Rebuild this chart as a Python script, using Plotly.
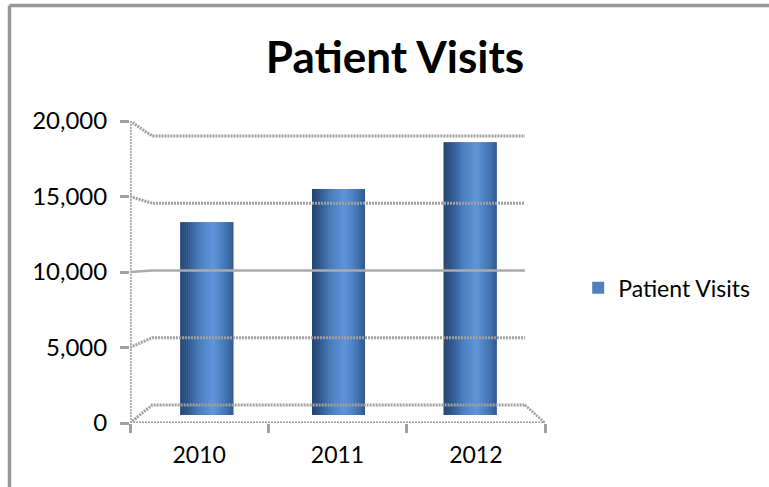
import plotly.graph_objects as go

# Data
categories = ["2010", "2011", "2012"]
series_name = "Patient Visits"
visits = [13300, 15500, 18600]
y_ticks = [0, 5000, 10000, 15000, 20000]
y_labels = ["0", "5,000", "10,000", "15,000", "20,000"]

# Look of the pseudo-3D chart
GRID = "#a0a0a0"
LEGEND_BLUE = "#4f81bd"
FLOOR = 530          # bars stand on the floor, slightly above the front axis
BAR_W = 0.383
STRIPS = 26
STOPS = [(0.0, (38, 70, 112)), (0.12, (46, 84, 134)), (0.35, (74, 125, 188)),
         (0.62, (96, 151, 220)), (0.85, (70, 120, 182)), (1.0, (50, 92, 146))]


def shade(t):
    for (a, ca), (b, cb) in zip(STOPS, STOPS[1:]):
        if t <= b:
            f = (t - a) / (b - a)
            return "rgb(%d,%d,%d)" % tuple(round(p + (q - p) * f) for p, q in zip(ca, cb))
    return "rgb(%d,%d,%d)" % STOPS[-1][1]


def back(v):
    return 1192 + v * 0.8908


fig = go.Figure()

# Back-wall gridlines with their slanted side-wall run
for v in y_ticks:
    solid = v == 10000
    fig.add_trace(go.Scatter(
        x=[0, 0.16, 2.855], y=[v, back(v), back(v)], mode="lines",
        line=dict(color="#ababab" if solid else GRID, width=2.5 if solid else 3,
                  dash="solid" if solid else "2px,1px"),
        showlegend=False, hoverinfo="skip", cliponaxis=False))

# Front axis and wall edge
fig.add_trace(go.Scatter(x=[0, 0], y=[0, 20000], mode="lines",
                         line=dict(color="#a8a8a8", width=3.5, dash="2px,1px"),
                         showlegend=False, hoverinfo="skip", cliponaxis=False))
fig.add_trace(go.Scatter(x=[0, 3], y=[0, 0], mode="lines",
                         line=dict(color=GRID, width=3, dash="2px,1px"),
                         showlegend=False, hoverinfo="skip", cliponaxis=False))
fig.add_trace(go.Scatter(x=[2.855, 3], y=[back(0), 0], mode="lines",
                         line=dict(color=GRID, width=2.5, dash="2px,1px"),
                         showlegend=False, hoverinfo="skip", cliponaxis=False))

# Bars with a horizontal cylinder shading built from narrow strips
centers = [1.507 + (i - 1) * 0.952 for i in range(len(categories))]
heights = [v - FLOOR for v in visits]
fig.add_trace(go.Bar(x=centers, y=heights, base=FLOOR, width=BAR_W, name=series_name,
                     marker=dict(color=LEGEND_BLUE, line=dict(width=0)),
                     showlegend=True))
for s in range(STRIPS):
    fig.add_trace(go.Bar(
        x=centers, y=heights, base=FLOOR, width=BAR_W / STRIPS * 1.05,
        offset=-BAR_W / 2 + s * BAR_W / STRIPS,
        marker=dict(color=shade(s / (STRIPS - 1)), line=dict(width=0)),
        showlegend=False, hoverinfo="skip"))

fig.update_layout(
    width=769, height=487, autosize=False,
    margin=dict(l=130, r=224, t=121, b=64),
    paper_bgcolor="white", plot_bgcolor="white",
    barmode="overlay",
    font=dict(family="Lato, Carlito, sans-serif", color="black", size=23),
    title=dict(text="<b>Patient Visits</b>", x=395 / 769, xref="container", xanchor="center",
               y=1 - 58 / 487, yref="container", yanchor="middle",
               font=dict(size=44, color="black")),
    legend=dict(x=1.08, y=0.448, xanchor="left", yanchor="middle",
                font=dict(size=23), itemclick=False, bgcolor="rgba(0,0,0,0)"),
    shapes=[
        dict(type="line", xref="paper", yref="paper", x0=(9.5 - 130) / 415, x1=(769 - 130) / 415,
             y0=(423 - 5.5) / 302, y1=(423 - 5.5) / 302, line=dict(color="#979797", width=3.5)),
        dict(type="line", xref="paper", yref="paper", x0=(9.5 - 130) / 415, x1=(9.5 - 130) / 415,
             y0=(423 - 5.5) / 302, y1=(423 - 487) / 302, line=dict(color="#979797", width=3.5)),
    ],
)
fig.update_xaxes(range=[0, 3], tickmode="array", tickvals=[0.5, 1.5, 2.5], ticktext=categories,
                 ticks="", showgrid=False, zeroline=False, showline=False,
                 tickfont=dict(size=23), ticklabelstandoff=16,
                 minor=dict(tickmode="array", tickvals=[0, 1, 2, 3], ticks="outside",
                            ticklen=9, tickwidth=2.5, tickcolor=GRID, showgrid=False))
fig.update_yaxes(range=[0, 20000], tickmode="array", tickvals=y_ticks, ticktext=y_labels,
                 ticks="outside", ticklen=9, tickwidth=2.5, tickcolor=GRID,
                 showgrid=False, zeroline=False, showline=False,
                 tickfont=dict(size=24), ticklabelstandoff=8)

fig.write_html("out.html", config={"displayModeBar": False},
               post_script="document.body.style.margin='0';")
